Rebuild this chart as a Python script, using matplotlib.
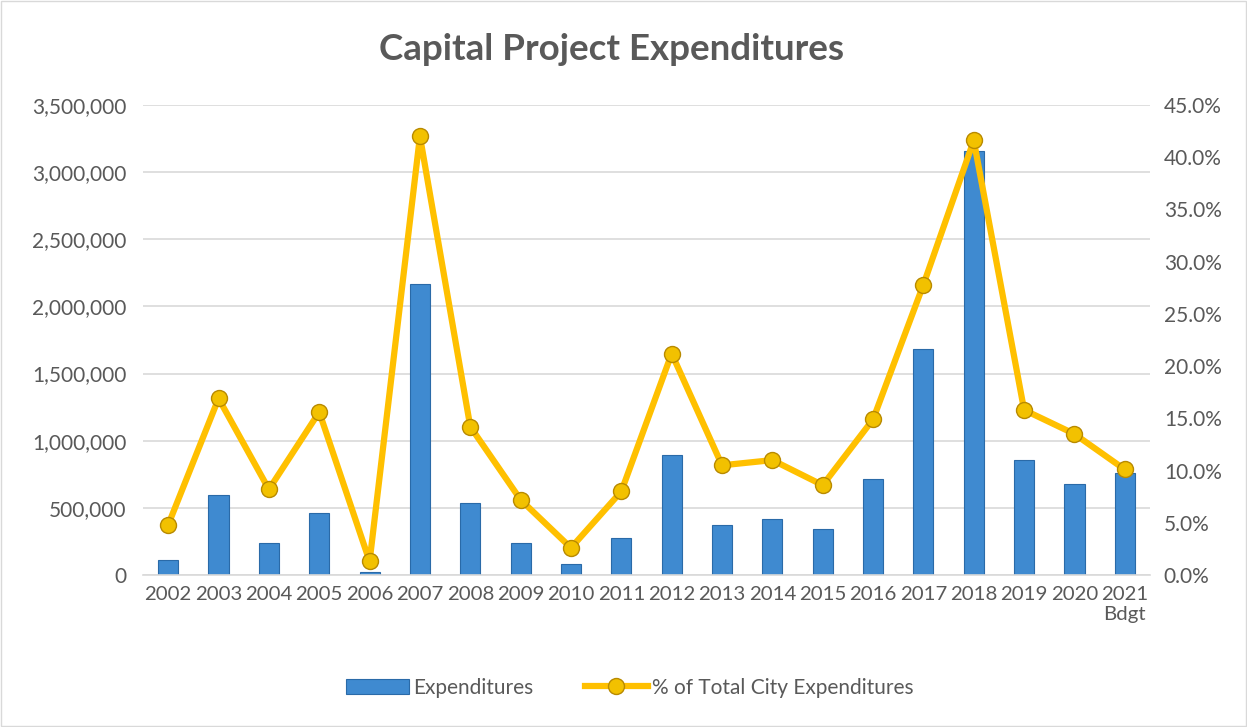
import matplotlib.pyplot as plt
from matplotlib.ticker import FuncFormatter
from matplotlib.patches import Rectangle

anos = ['2002', '2003', '2004', '2005', '2006', '2007', '2008', '2009', '2010', '2011',
        '2012', '2013', '2014', '2015', '2016', '2017', '2018', '2019', '2020', '2021\nBdgt']
gastos = [115000, 595000, 236000, 464000, 25000, 2170000, 538000, 236000, 80000, 276000,
          896000, 375000, 415000, 340000, 713000, 1680000, 3160000, 856000, 678000, 757000]
porcentaje = [4.8, 16.9, 8.2, 15.6, 1.3, 42.0, 14.2, 7.2, 2.6, 8.0,
              21.2, 10.5, 11.0, 8.6, 14.9, 27.8, 41.6, 15.8, 13.5, 10.1]

plt.rcParams['font.family'] = ['Lato', 'DejaVu Sans']
gris = '#595959'

fig = plt.figure(figsize=(12.47, 7.27), dpi=100)
fig.patches.append(Rectangle((0.0005, 0.0007), 0.999, 0.9985, transform=fig.transFigure,
                             fill=False, edgecolor='#D9D9D9', linewidth=1))
ax = fig.add_axes([0.1147, 0.2091, 0.8075, 0.6465])
ax2 = ax.twinx()

x = list(range(len(anos)))
barras = ax.bar(x, gastos, width=0.4, color='#3F8AD0', edgecolor='#2A6AA8', linewidth=0.8,
                label='Expenditures', zorder=2)
linea, = ax2.plot(x, porcentaje, color='#FFC000', linewidth=4.5, marker='o', markersize=11.5,
                  markerfacecolor='#F2C100', markeredgecolor='#B88A00', markeredgewidth=1,
                  label='% of Total City Expenditures', zorder=3)

ax.set_xlim(-0.5, len(anos) - 0.5)
ax.set_ylim(0, 3500000)
ax2.set_ylim(0, 45)
ax.set_yticks(range(0, 3500001, 500000))
ax2.set_yticks(range(0, 46, 5))
ax.yaxis.set_major_formatter(FuncFormatter(lambda v, p: f'{v:,.0f}'))
ax2.yaxis.set_major_formatter(FuncFormatter(lambda v, p: f'{v:.1f}%'))
ax.set_xticks(x)
ax.set_xticklabels(anos)

ax.grid(axis='y', color='#D9D9D9', linewidth=1.2, zorder=0)
ax.set_axisbelow(True)
for a in (ax, ax2):
    for s in a.spines.values():
        s.set_visible(False)
    a.tick_params(length=0, labelsize=15, colors=gris)
ax.tick_params(axis='x', labelsize=14.7)
ax.spines['bottom'].set_visible(True)
ax.spines['bottom'].set_color('#D9D9D9')
ax.spines['bottom'].set_linewidth(1.2)
ax.tick_params(axis='x', pad=8)
ax.tick_params(axis='y', pad=12)
ax2.tick_params(axis='y', pad=10)

fig.text(0.49, 0.932, 'Capital Project Expenditures', ha='center', va='center',
         fontsize=26.5, fontweight='bold', color=gris)

fig.legend(handles=[barras, linea], loc='center', bbox_to_anchor=(0.505, 0.054), ncol=2,
           frameon=False, fontsize=15, labelcolor=gris, handlelength=3.0,
           columnspacing=2.5, handletextpad=0.2)

fig.savefig('out.png', dpi=100)
